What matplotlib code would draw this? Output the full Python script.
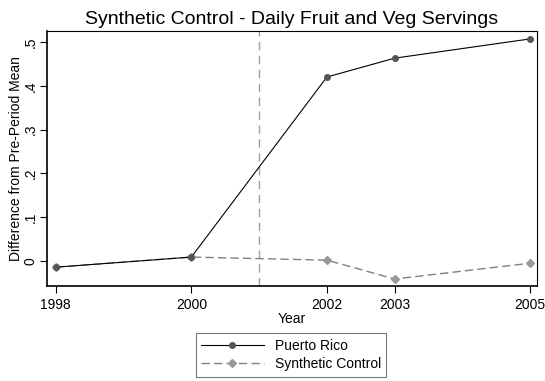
import matplotlib.pyplot as plt

plt.rcParams['font.family'] = ['Liberation Sans', 'DejaVu Sans']

years = [1998, 2000, 2002, 2003, 2005]
puerto_rico = [-0.014, 0.009, 0.420, 0.463, 0.507]
synthetic = [-0.014, 0.009, 0.002, -0.041, -0.005]
y_ticks = [0, 0.1, 0.2, 0.3, 0.4, 0.5]
y_tick_labels = ['0', '.1', '.2', '.3', '.4', '.5']
treatment_year = 2001

fig = plt.figure(figsize=(5.45, 3.81), dpi=100)
ax = fig.add_axes([47 / 545, 1 - 286 / 381, 490 / 545, 255 / 381])

ax.axvline(treatment_year, color='#a0a0a0', linestyle=(0, (6, 4)), linewidth=1)
ax.plot(years, synthetic, color='#808080', linestyle=(0, (6, 3)), linewidth=1,
        marker='D', markersize=4.5, markerfacecolor='#999999', markeredgecolor='#999999',
        label='Synthetic Control')
ax.plot(years, puerto_rico, color='black', linewidth=0.8,
        marker='o', markersize=4, markerfacecolor='#555555', markeredgecolor='#555555',
        label='Puerto Rico')

ax.set_xlim(1997.87, 2005.1)
ax.set_ylim(-0.057, 0.525)
ax.set_xticks(years)
ax.set_xticklabels([str(y) for y in years], fontsize=10)
ax.set_yticks(y_ticks)
ax.set_yticklabels(y_tick_labels, fontsize=10, rotation=90, va='center')
ax.tick_params(direction='out', length=5, width=0.8, colors='black')
ax.tick_params(axis='y', pad=2)

for side in ['top', 'right']:
    ax.spines[side].set_linewidth(0.8)
for side in ['left', 'bottom']:
    ax.spines[side].set_linewidth(1.2)

ax.set_xlabel('Year', fontsize=10, labelpad=0)
ax.set_ylabel('Difference from Pre-Period Mean', fontsize=10, labelpad=0)
ax.set_title('Synthetic Control - Daily Fruit and Veg Servings', fontsize=14, pad=5)

handles, labels = ax.get_legend_handles_labels()
leg = fig.legend(handles[::-1], labels[::-1], loc='center', bbox_to_anchor=(291 / 545, 1 - 355 / 381),
                 fontsize=10, frameon=True, fancybox=False, edgecolor='#555555',
                 handlelength=4.5, borderpad=0.4, labelspacing=0.3)
leg.get_frame().set_linewidth(0.8)

fig.savefig('out.png', dpi=100)
